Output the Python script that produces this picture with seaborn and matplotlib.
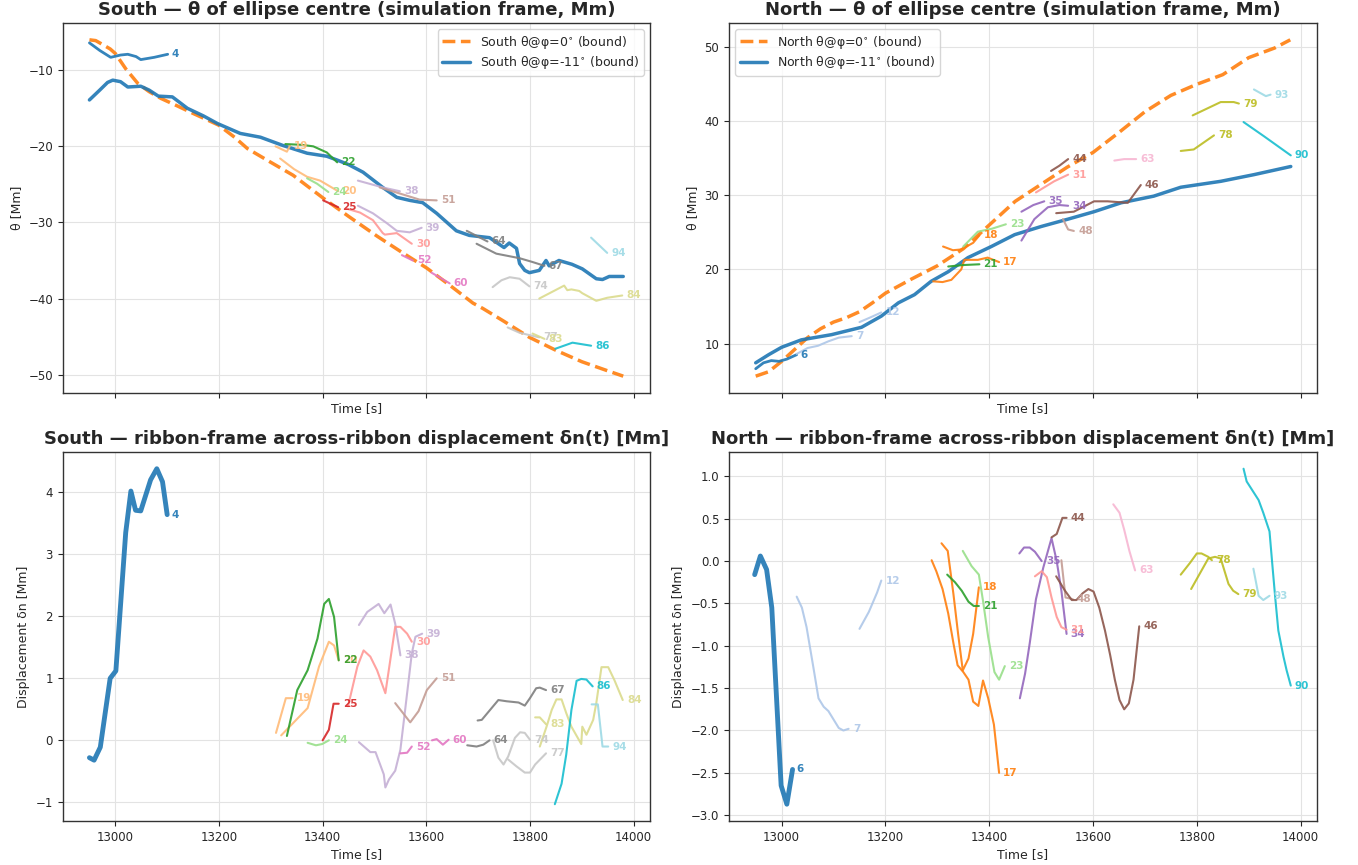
import matplotlib
matplotlib.use("Agg")
import matplotlib.pyplot as plt
import seaborn as sns

# ---------------- South: theta of ellipse centre ----------------
s_bound0_t = [12950, 12962, 12975, 12990, 13000, 13020, 13043, 13065, 13088, 13120, 13151, 13199, 13230, 13255,
              13300, 13343, 13401, 13450, 13505, 13550, 13601, 13650, 13690, 13709, 13750, 13799, 13850, 13900,
              13950, 13980]
s_bound0_v = [-6.0, -6.1, -6.6, -7.2, -7.8, -9.8, -11.7, -12.8, -13.7, -14.7, -15.7, -17.2, -18.8, -20.3,
              -22.1, -23.8, -26.8, -29.2, -31.8, -33.8, -36.0, -38.5, -40.6, -41.3, -43.0, -45.1, -46.8, -48.3,
              -49.5, -50.2]
s_bound11_t = [12950, 12970, 12985, 12995, 13010, 13024, 13049, 13065, 13083, 13110, 13139, 13170, 13197, 13241,
               13280, 13324, 13370, 13408, 13428, 13450, 13478, 13516, 13543, 13568, 13593, 13620, 13658, 13683,
               13722, 13750, 13760, 13774, 13780, 13790, 13799, 13818, 13831, 13837, 13856, 13881, 13901, 13928,
               13940, 13953, 13980]
s_bound11_v = [-13.9, -12.6, -11.6, -11.3, -11.5, -12.2, -12.1, -12.6, -13.4, -13.5, -15.0, -16.0, -17.0, -18.3,
               -18.8, -19.9, -20.9, -21.3, -21.8, -22.4, -23.4, -25.4, -26.7, -27.1, -27.4, -28.8, -31.1, -31.7,
               -32.0, -33.3, -32.7, -33.4, -35.4, -36.3, -36.6, -36.3, -35.0, -35.7, -35.0, -35.5, -36.1, -37.4,
               -37.5, -37.1, -37.1]

s_th_04 = ([12950, 12970, 12991, 13010, 13024, 13040, 13049, 13075, 13101],
           [-6.4, -7.4, -8.3, -8.0, -7.9, -8.2, -8.6, -8.3, -7.9])
s_th_19 = ([13309, 13331, 13337], [-20.0, -20.7, -19.9])
s_th_22 = ([13328, 13360, 13382, 13408, 13428], [-19.7, -19.8, -20.0, -20.8, -22.1])
s_th_20 = ([13318, 13345, 13370, 13395, 13430], [-21.6, -23.0, -24.0, -24.5, -25.9])
s_th_24 = ([13370, 13389, 13411], [-24.2, -24.9, -26.0])
s_th_25 = ([13401, 13430], [-27.1, -28.0])
s_th_38 = ([13468, 13516, 13549], [-24.5, -25.4, -25.9])
s_th_51 = ([13510, 13549, 13587, 13620], [-25.4, -26.2, -27.0, -27.1])
s_th_39 = ([13468, 13497, 13524, 13543, 13568, 13591], [-27.8, -28.8, -30.1, -31.1, -31.3, -30.7])
s_th_30 = ([13447, 13472, 13497, 13516, 13520, 13543, 13572], [-28.2, -28.7, -29.7, -31.4, -31.6, -31.4, -32.8])
s_th_52 = ([13553, 13574], [-34.3, -35.0])
s_th_60 = ([13610, 13645], [-36.6, -38.0])
s_th_64 = ([13678, 13718], [-31.1, -32.5])
s_th_67 = ([13697, 13735, 13780, 13805, 13828], [-32.8, -34.1, -34.7, -35.2, -35.7])
s_th_74 = ([13728, 13745, 13761, 13780, 13799], [-38.5, -37.6, -37.2, -37.4, -38.4])
s_th_77 = ([13757, 13780, 13805, 13818], [-43.8, -44.5, -44.9, -45.1])
s_th_83 = ([13805, 13828], [-44.6, -45.3])
s_th_84 = ([13818, 13866, 13872, 13880, 13895, 13901, 13928, 13949, 13978],
           [-40.0, -38.3, -38.9, -38.8, -39.0, -39.3, -40.3, -39.9, -39.6])
s_th_86 = ([13849, 13882, 13918], [-46.6, -45.8, -46.2])
s_th_94 = ([13918, 13949], [-32.0, -34.0])

# ---------------- North: theta of ellipse centre ----------------
n_bound0_t = [12950, 12975, 13000, 13025, 13050, 13075, 13100, 13125, 13150, 13175, 13200, 13250, 13300, 13350,
              13400, 13450, 13500, 13550, 13600, 13650, 13700, 13750, 13800, 13850, 13900, 13950, 13980]
n_bound0_v = [5.6, 6.2, 7.6, 9.2, 10.8, 12.0, 12.9, 13.5, 14.3, 15.5, 16.8, 18.7, 20.5, 22.8,
              26.0, 29.2, 31.5, 33.8, 35.8, 38.5, 41.3, 43.5, 45.0, 46.3, 48.6, 49.9, 51.0]
n_bound11_t = [12950, 12975, 13000, 13038, 13096, 13154, 13192, 13225, 13256, 13288, 13321, 13359, 13404, 13449,
               13500, 13552, 13602, 13654, 13717, 13769, 13846, 13910, 13981]
n_bound11_v = [7.4, 8.5, 9.5, 10.5, 11.2, 12.2, 13.7, 15.5, 16.6, 18.4, 19.7, 21.6, 23.1, 24.7,
               25.8, 26.8, 27.8, 29.0, 29.9, 31.1, 31.9, 32.8, 33.9]

n_th_06 = ([12950, 12965, 12980, 12995, 13010, 13029], [6.6, 7.4, 7.7, 7.6, 7.9, 8.5])
n_th_07 = ([13029, 13050, 13070, 13090, 13110, 13135], [8.6, 9.4, 9.7, 10.3, 10.8, 11.0])
n_th_12 = ([13150, 13170, 13192], [12.9, 13.5, 14.2])
n_th_17 = ([13292, 13310, 13327, 13346, 13352, 13378, 13397, 13419], [18.4, 18.3, 18.6, 20.0, 21.3, 21.3, 21.6, 21.0])
n_th_18 = ([13311, 13330, 13346, 13369, 13381], [23.1, 22.6, 22.7, 23.6, 24.6])
n_th_21 = ([13321, 13350, 13381], [20.4, 20.6, 20.7])
n_th_23 = ([13350, 13378, 13405, 13432], [23.1, 25.1, 25.5, 26.1])
n_th_35 = ([13462, 13485, 13506], [27.8, 28.7, 29.2])
n_th_34 = ([13462, 13487, 13513, 13535, 13552], [23.9, 26.8, 28.4, 28.7, 28.6])
n_th_44 = ([13519, 13535, 13552], [33.3, 34.0, 34.9])
n_th_31 = ([13490, 13525, 13552], [30.4, 31.9, 32.8])
n_th_46 = ([13529, 13563, 13602, 13628, 13667, 13692], [27.6, 27.8, 29.2, 29.2, 29.0, 31.4])
n_th_48 = ([13542, 13552, 13563], [26.8, 25.4, 25.2])
n_th_63 = ([13641, 13660, 13683], [34.7, 34.9, 34.9])
n_th_78 = ([13769, 13794, 13833], [36.0, 36.2, 38.1])
n_th_79 = ([13792, 13846, 13871, 13881], [40.8, 42.6, 42.6, 42.4])
n_th_90 = ([13890, 13929, 13981], [39.9, 38.0, 35.4])
n_th_93 = ([13910, 13933, 13942], [44.3, 43.4, 43.6])

# ---------------- South: displacement ----------------
s_dn_04 = ([12950, 12959, 12971, 12990, 13001, 13020, 13030, 13039, 13049, 13068, 13080, 13091, 13100],
           [-0.28, -0.32, -0.11, 1.00, 1.12, 3.35, 4.02, 3.71, 3.70, 4.20, 4.38, 4.17, 3.64])
s_dn_19 = ([13310, 13329, 13342], [0.12, 0.68, 0.68])
s_dn_20 = ([13320, 13371, 13393, 13412, 13422, 13431], [0.08, 0.52, 1.19, 1.59, 1.53, 1.29])
s_dn_22 = ([13331, 13351, 13371, 13383, 13390, 13403, 13412, 13422, 13431],
           [0.07, 0.81, 1.13, 1.45, 1.64, 2.20, 2.28, 1.99, 1.29])
s_dn_25 = ([13400, 13412, 13421, 13431], [0.00, 0.17, 0.59, 0.59])
s_dn_24 = ([13371, 13387, 13399, 13412], [-0.04, -0.08, -0.06, 0.00])
s_dn_38 = ([13470, 13486, 13508, 13519, 13531, 13540, 13550], [1.86, 2.07, 2.20, 2.05, 2.19, 1.88, 1.37])
s_dn_39 = ([13470, 13492, 13502, 13518, 13521, 13528, 13540, 13550, 13560, 13572, 13579, 13592],
           [-0.03, -0.19, -0.19, -0.55, -0.76, -0.63, -0.49, -0.15, 0.55, 1.40, 1.67, 1.72])
s_dn_30 = ([13449, 13467, 13479, 13492, 13505, 13521, 13540, 13550, 13563, 13572],
           [0.55, 1.19, 1.45, 1.35, 1.13, 0.76, 1.83, 1.83, 1.72, 1.59])
s_dn_51 = ([13540, 13569, 13585, 13601, 13620], [0.60, 0.29, 0.47, 0.81, 1.00])
s_dn_52 = ([13550, 13563, 13572], [-0.21, -0.20, -0.10])
s_dn_60 = ([13611, 13620, 13632, 13643], [0.00, 0.02, -0.07, 0.01])
s_dn_64 = ([13679, 13697, 13710, 13722], [-0.08, -0.10, -0.07, 0.00])
s_dn_67 = ([13699, 13707, 13723, 13739, 13755, 13778, 13790, 13800, 13812, 13819, 13831],
           [0.32, 0.33, 0.49, 0.65, 0.63, 0.61, 0.56, 0.68, 0.84, 0.85, 0.81])
s_dn_74 = ([13729, 13739, 13749, 13758, 13771, 13781, 13790, 13800],
           [0.00, -0.28, -0.39, -0.26, 0.04, 0.13, 0.12, 0.01])
s_dn_77 = ([13758, 13774, 13790, 13800, 13810, 13831], [-0.31, -0.42, -0.52, -0.52, -0.39, -0.21])
s_dn_83 = ([13810, 13819, 13831], [0.37, 0.37, 0.26])
s_dn_84 = ([13819, 13832, 13842, 13851, 13861, 13870, 13880, 13899, 13901, 13909, 13922, 13928, 13938, 13951,
            13963, 13979],
           [-0.10, 0.22, 0.49, 0.66, 0.66, 0.44, 0.22, -0.06, 0.22, 0.09, 0.33, 0.60, 1.18, 1.18, 0.97, 0.65])
s_dn_86 = ([13848, 13861, 13870, 13880, 13890, 13899, 13909, 13921], [-1.03, -0.70, -0.23, 0.49, 0.96, 0.99, 0.98, 0.87])
s_dn_94 = ([13919, 13931, 13940, 13951], [0.58, 0.58, -0.10, -0.10])

# ---------------- North: displacement ----------------
n_dn_06 = ([12948, 12959, 12971, 12981, 12999, 13010, 13021], [-0.16, 0.06, -0.10, -0.55, -2.65, -2.87, -2.46])
n_dn_07 = ([13029, 13039, 13048, 13061, 13071, 13081, 13090, 13110, 13119, 13129],
           [-0.42, -0.55, -0.78, -1.25, -1.62, -1.72, -1.77, -1.97, -2.00, -1.98])
n_dn_12 = ([13150, 13168, 13184, 13192], [-0.80, -0.60, -0.37, -0.23])
n_dn_17 = ([13289, 13298, 13310, 13321, 13331, 13339, 13350, 13360, 13369, 13379, 13388, 13398, 13409, 13419],
           [0.01, -0.12, -0.33, -0.62, -0.97, -1.23, -1.31, -1.40, -1.66, -1.71, -1.41, -1.62, -1.93, -2.50])
n_dn_18 = ([13308, 13320, 13331, 13340, 13349, 13360, 13369, 13380], [0.21, 0.12, -0.39, -0.86, -1.29, -1.15, -0.86, -0.31])
n_dn_21 = ([13319, 13334, 13347, 13360, 13370, 13380], [-0.16, -0.25, -0.35, -0.48, -0.53, -0.53])
n_dn_23 = ([13349, 13366, 13380, 13388, 13398, 13410, 13419, 13430], [0.12, -0.06, -0.16, -0.47, -0.90, -1.31, -1.40, -1.24])
n_dn_35 = ([13458, 13467, 13478, 13488, 13501], [0.09, 0.16, 0.16, 0.11, 0.00])
n_dn_34 = ([13459, 13469, 13478, 13490, 13504, 13520, 13530, 13539, 13549],
           [-1.62, -1.33, -0.97, -0.45, -0.08, 0.27, 0.00, -0.35, -0.86])
n_dn_31 = ([13488, 13501, 13511, 13520, 13530, 13539, 13549], [-0.18, -0.12, -0.19, -0.43, -0.66, -0.78, -0.81])
n_dn_44 = ([13520, 13530, 13541, 13549], [0.28, 0.32, 0.51, 0.51])
n_dn_48 = ([13539, 13547, 13561], [0.01, -0.43, -0.45])
n_dn_46 = ([13529, 13546, 13559, 13568, 13580, 13591, 13601, 13612, 13623, 13633, 13642, 13651, 13660, 13669,
            13678, 13689],
           [-0.18, -0.35, -0.46, -0.46, -0.38, -0.33, -0.36, -0.55, -0.82, -1.11, -1.40, -1.64, -1.75, -1.68,
            -1.40, -0.77])
n_dn_63 = ([13639, 13651, 13660, 13670, 13681], [0.67, 0.57, 0.37, 0.12, -0.11])
n_dn_78 = ([13769, 13787, 13800, 13809, 13822, 13829], [-0.16, -0.02, 0.09, 0.09, 0.05, 0.01])
n_dn_79 = ([13789, 13822, 13835, 13846, 13861, 13870, 13880], [-0.33, 0.03, 0.05, 0.03, -0.27, -0.35, -0.39])
n_dn_93 = ([13909, 13919, 13928, 13940], [-0.09, -0.41, -0.46, -0.41])
n_dn_90 = ([13890, 13896, 13919, 13928, 13940, 13946, 13951, 13957, 13967, 13973, 13981],
           [1.09, 0.94, 0.72, 0.57, 0.35, -0.08, -0.43, -0.82, -1.13, -1.29, -1.47])

south_theta_tracks = [(4, s_th_04), (19, s_th_19), (22, s_th_22), (20, s_th_20), (24, s_th_24), (25, s_th_25),
                      (38, s_th_38), (51, s_th_51), (39, s_th_39), (30, s_th_30), (52, s_th_52), (60, s_th_60),
                      (64, s_th_64), (67, s_th_67), (74, s_th_74), (77, s_th_77), (83, s_th_83), (84, s_th_84),
                      (86, s_th_86), (94, s_th_94)]
north_theta_tracks = [(6, n_th_06), (7, n_th_07), (12, n_th_12), (17, n_th_17), (18, n_th_18), (21, n_th_21),
                      (23, n_th_23), (35, n_th_35), (34, n_th_34), (44, n_th_44), (31, n_th_31), (46, n_th_46),
                      (48, n_th_48), (63, n_th_63), (78, n_th_78), (79, n_th_79), (90, n_th_90), (93, n_th_93)]
south_dn_tracks = [(4, s_dn_04), (19, s_dn_19), (20, s_dn_20), (22, s_dn_22), (25, s_dn_25), (24, s_dn_24),
                   (38, s_dn_38), (39, s_dn_39), (30, s_dn_30), (51, s_dn_51), (52, s_dn_52), (60, s_dn_60),
                   (64, s_dn_64), (67, s_dn_67), (74, s_dn_74), (77, s_dn_77), (83, s_dn_83), (84, s_dn_84),
                   (86, s_dn_86), (94, s_dn_94)]
north_dn_tracks = [(6, n_dn_06), (7, n_dn_07), (12, n_dn_12), (17, n_dn_17), (18, n_dn_18), (21, n_dn_21),
                   (23, n_dn_23), (35, n_dn_35), (34, n_dn_34), (31, n_dn_31), (44, n_dn_44), (48, n_dn_48),
                   (46, n_dn_46), (63, n_dn_63), (78, n_dn_78), (79, n_dn_79), (93, n_dn_93), (90, n_dn_90)]

# colour slot in tab20 for each track id
color_slot = {4: 0, 6: 0, 7: 1, 12: 1, 17: 2, 18: 2, 19: 3, 20: 3, 21: 4, 22: 4, 23: 5, 24: 5, 25: 6,
              30: 7, 31: 7, 34: 8, 35: 8, 38: 9, 39: 9, 44: 10, 46: 10, 48: 11, 51: 11, 52: 12, 60: 12,
              63: 13, 64: 14, 67: 14, 74: 15, 77: 15, 78: 16, 79: 16, 83: 17, 84: 17, 86: 18, 90: 18,
              93: 19, 94: 19}

sns.set_style("ticks")
plt.rcParams['font.family'] = ['DejaVu Sans']
plt.rcParams['axes.edgecolor'] = '#333333'
plt.rcParams['xtick.labelsize'] = 8.5
plt.rcParams['ytick.labelsize'] = 8.5

pal = sns.color_palette("tab20", 20)
orange = pal[2]
blue = pal[0]

fig = plt.figure(figsize=(13.58, 8.65), dpi=100)
ax_st = fig.add_axes([0.0462, 0.5457, 0.4324, 0.4277])
ax_nt = fig.add_axes([0.5368, 0.5457, 0.4330, 0.4277])
ax_sd = fig.add_axes([0.0462, 0.0509, 0.4324, 0.4266])
ax_nd = fig.add_axes([0.5368, 0.0509, 0.4330, 0.4266])


def draw_tracks(ax, tracks, main_id, main_lw, other_lw=1.5):
    for tid, (tt, vv) in tracks:
        col = pal[color_slot[tid]]
        lw = main_lw if tid == main_id else other_lw
        sns.lineplot(x=tt, y=vv, ax=ax, color=col, lw=lw, alpha=0.9, sort=False, estimator=None)
        ax.annotate(str(tid), xy=(tt[-1], vv[-1]), xytext=(3, 0), textcoords='offset points',
                    va='center', ha='left', fontsize=7.5, fontweight='bold', color=col, alpha=0.9)


def style(ax, title, ylabel, show_xticklabels):
    ax.set_title(title, fontsize=13, fontweight='bold', pad=6)
    ax.set_xlabel("Time [s]", fontsize=9, labelpad=3)
    ax.set_ylabel(ylabel, fontsize=9)
    ax.grid(True, color='#e3e3e3', lw=0.8)
    ax.set_axisbelow(True)
    ax.set_xlim(12898.5, 14031.5)
    ax.set_xticks([13000, 13200, 13400, 13600, 13800, 14000])
    if not show_xticklabels:
        ax.tick_params(axis='x', labelbottom=False)
    for s in ax.spines.values():
        s.set_visible(True)
        s.set_linewidth(1.0)


legend_kw = dict(fontsize=9, framealpha=0.8, labelspacing=0.3, borderpad=0.35, handlelength=2.2)

# South theta
sns.lineplot(x=s_bound0_t, y=s_bound0_v, ax=ax_st, color=orange, lw=2.5, ls='--', alpha=0.9,
             sort=False, estimator=None, label="South θ@φ=0$^{\\circ}$ (bound)")
sns.lineplot(x=s_bound11_t, y=s_bound11_v, ax=ax_st, color=blue, lw=2.5, alpha=0.9,
             sort=False, estimator=None, label="South θ@φ=-11$^{\\circ}$ (bound)")
draw_tracks(ax_st, south_theta_tracks, 4, 2.0)
style(ax_st, "South — θ of ellipse centre (simulation frame, Mm)", "θ [Mm]", False)
ax_st.legend(loc='upper right', **legend_kw)

# North theta
sns.lineplot(x=n_bound0_t, y=n_bound0_v, ax=ax_nt, color=orange, lw=2.5, ls='--', alpha=0.9,
             sort=False, estimator=None, label="North θ@φ=0$^{\\circ}$ (bound)")
sns.lineplot(x=n_bound11_t, y=n_bound11_v, ax=ax_nt, color=blue, lw=2.5, alpha=0.9,
             sort=False, estimator=None, label="North θ@φ=-11$^{\\circ}$ (bound)")
draw_tracks(ax_nt, north_theta_tracks, 6, 2.0)
style(ax_nt, "North — θ of ellipse centre (simulation frame, Mm)", "θ [Mm]", False)
ax_nt.legend(loc='upper left', **legend_kw)

# South displacement
draw_tracks(ax_sd, south_dn_tracks, 4, 3.5)
style(ax_sd, "South — ribbon-frame across-ribbon displacement δn(t) [Mm]", "Displacement δn [Mm]", True)

# North displacement
draw_tracks(ax_nd, north_dn_tracks, 6, 3.5)
style(ax_nd, "North — ribbon-frame across-ribbon displacement δn(t) [Mm]", "Displacement δn [Mm]", True)
ax_nd.set_yticks([1.0, 0.5, 0.0, -0.5, -1.0, -1.5, -2.0, -2.5, -3.0])

fig.savefig("out.png", dpi=100)
